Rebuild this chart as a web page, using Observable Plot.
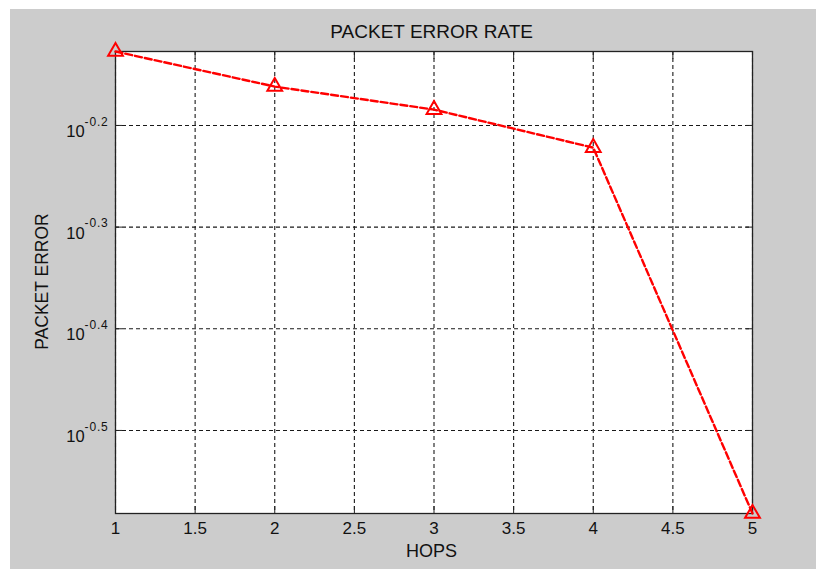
<!DOCTYPE html>
<html>
<head>
<meta charset="utf-8">
<script src="https://cdn.jsdelivr.net/npm/d3@7"></script>
<script src="https://cdn.jsdelivr.net/npm/@observablehq/plot@0.6"></script>
<style>
  html, body { margin: 0; padding: 0; background: #ffffff; }
  #chart svg { display: block; margin: 9px 0 0 10px; }
</style>
</head>
<body>
<div id="chart"></div>
<script>
// ---- data ----
const hops = [1, 2, 3, 4, 5];
const packetError = [0.746, 0.689, 0.654, 0.600, 0.262];
const xTicks = [1, 1.5, 2, 2.5, 3, 3.5, 4, 4.5, 5];
const yTickExponents = [-0.2, -0.3, -0.4, -0.5];
const titleText = "PACKET ERROR RATE";
const xLabelText = "HOPS";
const yLabelText = "PACKET ERROR";

const yTicks = yTickExponents.map(e => Math.pow(10, e));
const rows = hops.map((h, i) => ({hops: h, err: packetError[i]}));

const W = 806, H = 560, ML = 105, MR = 64, MT = 42, MB = 56;
const gridStyle = {stroke: "#1a1a1a", strokeOpacity: 1, strokeWidth: 1.1, strokeDasharray: "4,3"};
const tk = 7;
const noText = () => "";

const svg = Plot.plot({
  width: W, height: H,
  marginLeft: ML, marginRight: MR, marginTop: MT, marginBottom: MB,
  style: {background: "#cccccc", fontFamily: "'Liberation Sans', Arial, sans-serif", fontSize: "17px", color: "#111", overflow: "visible"},
  x: {domain: [1, 5]},
  y: {type: "log", domain: d3.extent(packetError)},
  marks: [
    Plot.frame({fill: "white", stroke: null}),
    Plot.gridX(xTicks, gridStyle),
    Plot.gridY(yTicks, gridStyle),
    // inward ticks on all four sides
    Plot.axisX(xTicks, {anchor: "bottom", tickSize: tk, dy: -tk, tickFormat: noText, label: null, stroke: "#222"}),
    Plot.axisX(xTicks, {anchor: "top", tickSize: tk, dy: tk, tickFormat: noText, label: null, stroke: "#222"}),
    Plot.axisY(yTicks, {anchor: "left", tickSize: tk, dx: tk, tickFormat: noText, label: null, stroke: "#222"}),
    Plot.axisY(yTicks, {anchor: "right", tickSize: tk, dx: -tk, tickFormat: noText, label: null, stroke: "#222"}),
    // labels
    Plot.axisX(xTicks, {anchor: "bottom", tickSize: 0, tickPadding: 8, label: null, fontSize: 17, fill: "#111", tickFormat: d => String(d)}),
    Plot.axisY(yTicks, {anchor: "left", tickSize: 0, tickPadding: 7, label: null, fontSize: 16.5, fill: "#111", tickFormat: d => "10"}),
    Plot.frame({stroke: "#222", strokeWidth: 1.3}),
    Plot.line(rows, {x: "hops", y: "err", stroke: "#ff0000", strokeWidth: 2.4, strokeDasharray: "7,3"}),
    Plot.dot(rows, {x: "hops", y: "err", symbol: "triangle", r: 5.5, stroke: "#ff0000", strokeWidth: 2, fill: "none"})
  ]
});

// superscript exponents on the y tick labels
const s = d3.select(svg);
s.selectAll("g[aria-label='y-axis tick label'] text")
  .filter(function() { return this.textContent === "10"; })
  .each(function(d, i) {
    const t = d3.select(this);
    t.text(null).attr("dy", "0.39em");
    t.append("tspan").text("10");
    t.append("tspan").attr("dy", "-11.5").attr("font-size", 12).attr("letter-spacing", "0.8").text(String(yTickExponents[i]));
  });

const ff = "'Liberation Sans', Arial, sans-serif";
s.append("text").attr("x", 421.7).attr("y", 28.7).attr("text-anchor", "middle")
  .attr("font-family", ff).attr("font-size", 19).attr("fill", "#111").text(titleText);
s.append("text").attr("x", 421.5).attr("y", 547.7).attr("text-anchor", "middle")
  .attr("font-family", ff).attr("font-size", 18).attr("fill", "#111").text(xLabelText);
s.append("text").attr("transform", "translate(38,272.5) rotate(-90)").attr("text-anchor", "middle")
  .attr("font-family", ff).attr("font-size", 17.5).attr("fill", "#111").text(yLabelText);

document.getElementById("chart").appendChild(svg);
</script>
</body>
</html>
